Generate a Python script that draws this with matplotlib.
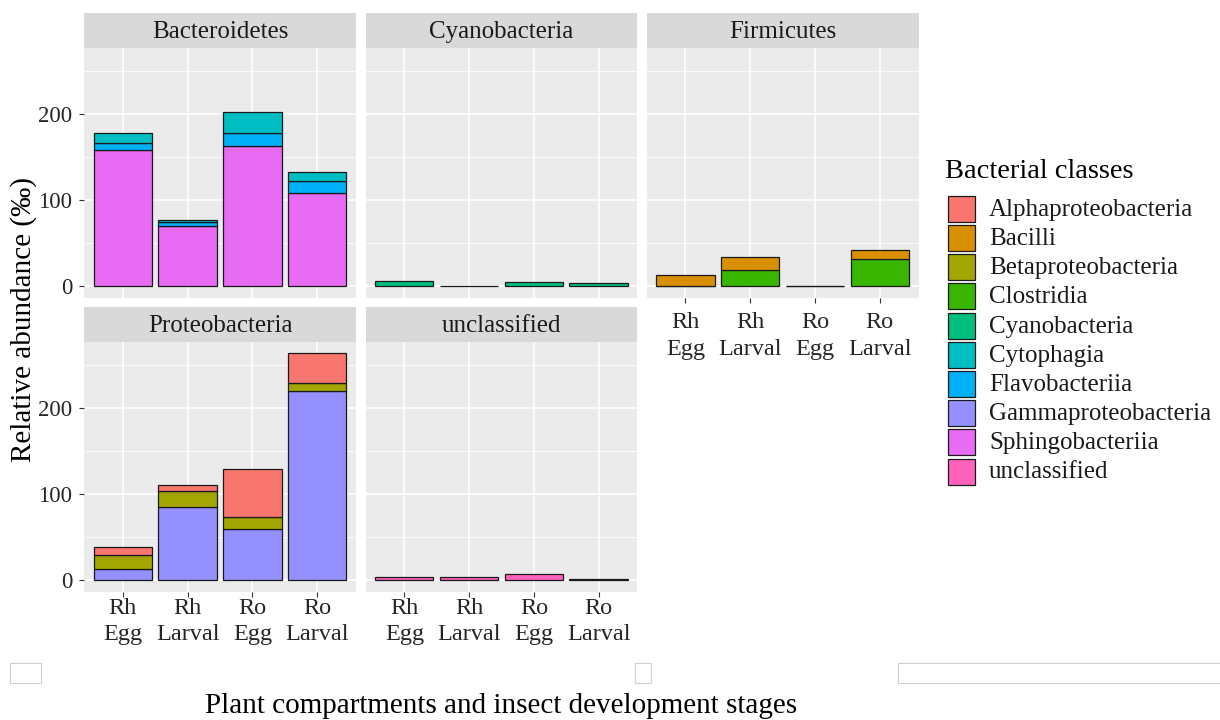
import matplotlib
matplotlib.use("Agg")
import matplotlib.pyplot as plt
from matplotlib.patches import Rectangle
from matplotlib.ticker import MultipleLocator

plt.rcParams['font.family'] = ['Liberation Serif', 'DejaVu Serif']

# ---- data (relative abundance, per mille) ----
samples = ["Rh\nEgg", "Rh\nLarval", "Ro\nEgg", "Ro\nLarval"]
phyla = ["Bacteroidetes", "Cyanobacteria", "Firmicutes", "Proteobacteria", "unclassified"]
classes = ["Alphaproteobacteria", "Bacilli", "Betaproteobacteria", "Clostridia",
           "Cyanobacteria", "Cytophagia", "Flavobacteriia", "Gammaproteobacteria",
           "Sphingobacteriia", "unclassified"]
class_colors = ["#F8766D", "#D89000", "#A3A500", "#39B600", "#00BF7D",
                "#00BFC4", "#00B0F6", "#9590FF", "#E76BF3", "#FF62BC"]

bacteroidetes_cytophagia = [11.5, 2.5, 24.5, 11.0]
bacteroidetes_flavobacteriia = [8.5, 5.0, 15.5, 13.0]
bacteroidetes_sphingobacteriia = [158.5, 69.5, 163.0, 109.0]

cyanobacteria_cyanobacteria = [6.0, 0.5, 5.0, 3.5]

firmicutes_bacilli = [12.5, 15.0, 0.4, 10.0]
firmicutes_clostridia = [0.0, 19.0, 0.0, 32.0]

proteobacteria_alpha = [10.0, 6.5, 56.0, 34.0]
proteobacteria_beta = [15.5, 19.0, 13.5, 10.0]
proteobacteria_gamma = [13.5, 85.0, 60.0, 220.0]

unclassified_unclassified = [4.0, 4.0, 7.0, 1.5]

composition = {
    "Bacteroidetes": {"Cytophagia": bacteroidetes_cytophagia,
                      "Flavobacteriia": bacteroidetes_flavobacteriia,
                      "Sphingobacteriia": bacteroidetes_sphingobacteriia},
    "Cyanobacteria": {"Cyanobacteria": cyanobacteria_cyanobacteria},
    "Firmicutes": {"Bacilli": firmicutes_bacilli,
                   "Clostridia": firmicutes_clostridia},
    "Proteobacteria": {"Alphaproteobacteria": proteobacteria_alpha,
                       "Betaproteobacteria": proteobacteria_beta,
                       "Gammaproteobacteria": proteobacteria_gamma},
    "unclassified": {"unclassified": unclassified_unclassified},
}

# ---- figure layout (pixel based) ----
W, H = 1220, 720
fig = plt.figure(figsize=(W / 100, H / 100), dpi=100)


def box(x0, y0, x1, y1):
    return [x0 / W, 1 - y1 / H, (x1 - x0) / W, (y1 - y0) / H]


col_x = [(84, 356), (365.5, 637.5), (646.5, 918.5)]
row_y = [((13, 48), (48, 297.5)), ((307.5, 342), (342, 591.5))]

ymax_total = max(sum(v[i] for v in d.values()) for d in composition.values() for i in range(4))
ylim = (-0.05 * ymax_total, 1.05 * ymax_total)

tick_col = "#262626"
n_cols = 3

for k, phylum in enumerate(phyla):
    r, c = divmod(k, n_cols)
    (sy0, sy1), (py0, py1) = row_y[r]
    x0, x1 = col_x[c]

    # strip
    sax = fig.add_axes(box(x0, sy0, x1, sy1))
    sax.set_facecolor("#D9D9D9")
    sax.set_xticks([]); sax.set_yticks([])
    for s in sax.spines.values():
        s.set_visible(False)
    sax.text(0.5, 0.45, phylum, ha="center", va="center", fontsize=18,
             color="#1A1A1A", transform=sax.transAxes)

    ax = fig.add_axes(box(x0, py0, x1, py1))
    ax.set_facecolor("#EBEBEB")
    for s in ax.spines.values():
        s.set_visible(False)
    ax.set_xlim(0.4, 4.6)
    ax.set_ylim(*ylim)
    ax.yaxis.set_major_locator(MultipleLocator(100))
    ax.yaxis.set_minor_locator(MultipleLocator(50))
    ax.set_xticks([1, 2, 3, 4])
    ax.grid(which="major", color="white", linewidth=1.2)
    ax.grid(which="minor", axis="y", color="white", linewidth=0.6)
    ax.set_axisbelow(True)

    pos = [1, 2, 3, 4]
    bottom = [0.0] * 4
    for cls, col in reversed(list(zip(classes, class_colors))):
        if cls not in composition[phylum]:
            continue
        vals = composition[phylum][cls]
        ax.bar(pos, vals, width=0.9, bottom=bottom, color=col,
               edgecolor="#1A1A1A", linewidth=0.9, zorder=3)
        bottom = [b + v for b, v in zip(bottom, vals)]

    show_x = (r == 1) or (phylum == "Firmicutes")
    if show_x:
        ax.set_xticklabels(samples, fontsize=17.5, color=tick_col, linespacing=1.33)
        pad = 7.5 if r == 0 else 1.5
        ax.tick_params(axis="x", length=3.3, width=0.8, color="#333333", pad=pad)
    else:
        ax.tick_params(axis="x", length=0, labelbottom=False)
    if c == 0:
        ax.tick_params(axis="y", which="major", length=3.3, width=0.8,
                       color="#333333", labelsize=16.5, labelcolor=tick_col, pad=5)
        ax.tick_params(axis="y", which="minor", length=0)
    else:
        ax.tick_params(axis="y", which="both", length=0, labelleft=False)

# ---- overlay for titles, legend and page frame ----
ov = fig.add_axes([0, 0, 1, 1], zorder=-1)
ov.set_xlim(0, W); ov.set_ylim(H, 0)
ov.axis("off")

ov.text(501, 706, "Plant compartments and insect development stages",
        ha="center", va="center", fontsize=21, color="black")
ov.text(23.5, 320, "Relative abundance (‰)", ha="center", va="center",
        rotation=90, fontsize=21, color="black")

# legend
ov.text(945, 178, "Bacterial classes", ha="left", va="baseline", fontsize=20.5, color="black")
for i, (cls, col) in enumerate(zip(classes, class_colors)):
    yc = 208.7 + i * 29.2
    ov.add_patch(Rectangle((947.5, yc - 13), 27.5, 26, facecolor=col,
                           edgecolor="#1A1A1A", linewidth=0.9))
    ov.text(989, yc + 1, cls, ha="left", va="center", fontsize=18, color="#1A1A1A")

# page frame boxes along the lower edge
for fx0, fx1 in [(9.5, 40.5), (634.5, 651), (897.5, 1225)]:
    ov.add_patch(Rectangle((fx0, 662.5), fx1 - fx0, 20.5, facecolor="white",
                           edgecolor="#D0D0D0", linewidth=0.8))

fig.savefig("out.png", dpi=100)
